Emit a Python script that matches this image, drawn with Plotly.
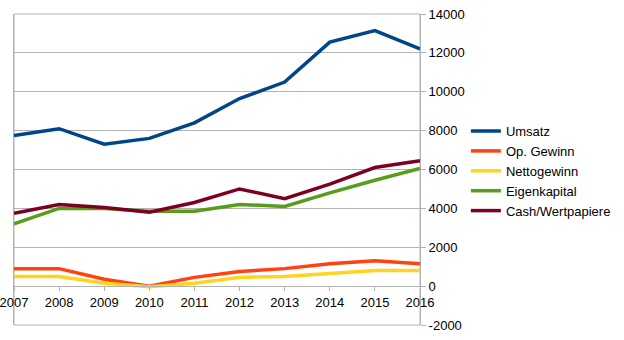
import plotly.graph_objects as go

# Jahreskennzahlen (Mio.)
years = [2007, 2008, 2009, 2010, 2011, 2012, 2013, 2014, 2015, 2016]
umsatz = [7750, 8100, 7300, 7600, 8400, 9650, 10500, 12550, 13150, 12200]
op_gewinn = [900, 900, 350, 0, 450, 750, 900, 1150, 1300, 1150]
nettogewinn = [500, 500, 150, -30, 150, 450, 500, 650, 800, 800]
eigenkapital = [3200, 4000, 4000, 3850, 3850, 4200, 4100, 4800, 5450, 6050]
cash = [3750, 4200, 4050, 3800, 4300, 5000, 4500, 5250, 6100, 6450]

series = [
    ("Umsatz", umsatz, "#004586"),
    ("Op. Gewinn", op_gewinn, "#ff420e"),
    ("Nettogewinn", nettogewinn, "#ffd320"),
    ("Eigenkapital", eigenkapital, "#579d1c"),
    ("Cash/Wertpapiere", cash, "#7e0021"),
]

y_ticks = list(range(-2000, 14001, 2000))

fig = go.Figure()
for name, values, color in series:
    fig.add_trace(go.Scatter(
        x=years, y=values, name=name, mode="lines",
        line=dict(color=color, width=3.5),
    ))

grid = "#b3b3b3"

# Rahmen des Diagrammbereichs
fig.add_shape(type="rect", xref="paper", yref="paper", x0=0, x1=1, y0=0, y1=1,
              line=dict(color=grid, width=1), layer="below")

fig.update_layout(
    width=624, height=340,
    margin=dict(l=14, r=204, t=14, b=15, autoexpand=False),
    paper_bgcolor="white", plot_bgcolor="white",
    font=dict(family="Liberation Sans, Arial, sans-serif", size=13, color="#000000"),
    showlegend=True,
    legend=dict(
        x=1.113, xanchor="left", y=0.495, yanchor="middle",
        font=dict(size=13), itemwidth=30, tracegroupgap=0,
        bgcolor="rgba(0,0,0,0)",
    ),
    xaxis=dict(
        range=[2007, 2016], tickmode="array", tickvals=years,
        ticktext=[str(y) for y in years],
        showgrid=False, zeroline=False, automargin=False,
        ticklabeloverflow="allow",
        showline=True, linecolor=grid, linewidth=1,
        ticks="outside", ticklen=4, tickcolor=grid,
        anchor="free", position=0.125,
    ),
    yaxis=dict(
        range=[-2000, 14000], tickmode="array", tickvals=y_ticks,
        ticktext=[str(v) for v in y_ticks],
        side="right", showgrid=True, gridcolor=grid, gridwidth=1,
        zeroline=False, showline=True, mirror=True, automargin=False,
        ticklabeloverflow="allow",
        linecolor=grid, linewidth=1,
        ticks="outside", ticklen=5, tickcolor=grid,
    ),
)

fig.write_html("out.html")
